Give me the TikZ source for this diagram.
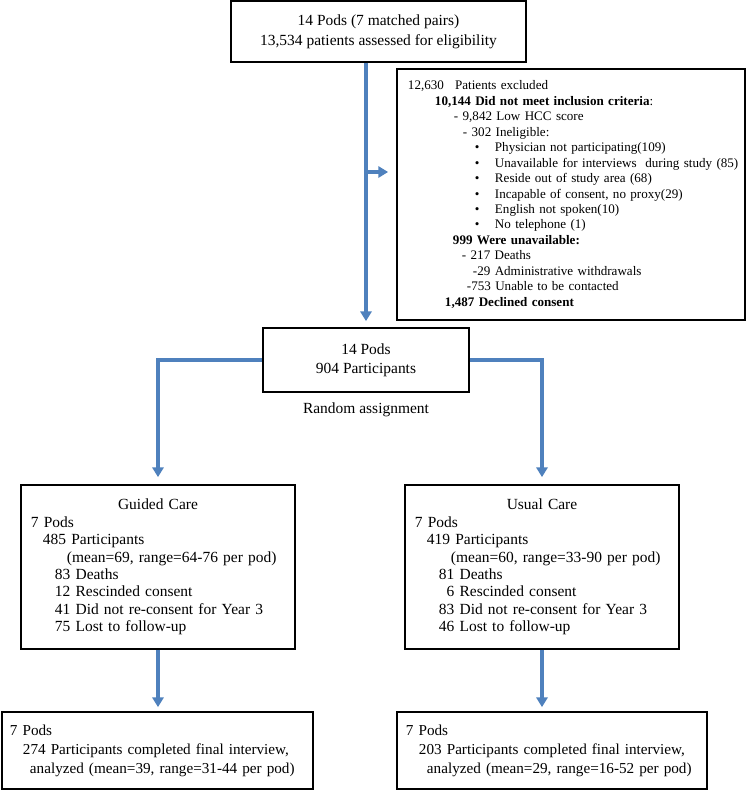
\documentclass[tikz,border=0pt]{standalone}
\usepackage{fontspec}
\setmainfont{Liberation Serif}
\usetikzlibrary{arrows.meta}
\definecolor{flowblue}{RGB}{79,129,189}
\newcommand{\exclitem}[1]{\hspace*{1.675cm}\makebox[0.5cm][l]{\textbullet}\mbox{#1}}

\begin{document}
\begin{tikzpicture}[x=0.025cm,y=-0.025cm,
  box/.style={draw,line width=1.2pt,inner xsep=0.25cm,inner ysep=0pt},
  flow/.style={draw=flowblue,line width=2.2pt,-{Triangle[width=8pt,length=7pt]}}]

\useasboundingbox (0,0) rectangle (748,791);

% boxes
\node[box,minimum width=7.375cm,minimum height=1.525cm,align=center,
  font=\fontsize{11}{14.2}\selectfont] (pods) at (378.5,31.5)
  {14 Pods (7 matched pairs)\\13,534 patients assessed for eligibility};

\node[box,inner xsep=0.275cm,text width=8.15cm,minimum height=6.275cm,align=left,
  font=\fontsize{9.3}{11}\selectfont] (excl) at (571,194.5)
  {12,630\hspace{0.28cm}Patients excluded\\
   \hspace*{0.675cm}\textbf{10,144 Did not meet inclusion criteria}:\\
   \hspace*{1.15cm}- 9,842 Low HCC score\\
   \hspace*{1.375cm}- 302 Ineligible:\\
   \exclitem{Physician not participating(109)}\\
   \exclitem{Unavailable for interviews\ \ during study (85)}\\
   \exclitem{Reside out of study area (68)}\\
   \exclitem{Incapable of consent, no proxy(29)}\\
   \exclitem{English not spoken(10)}\\
   \exclitem{No telephone (1)}\\
   \hspace*{1.125cm}\textbf{999 Were unavailable:}\\
   \hspace*{1.35cm}- 217 Deaths\\
   \hspace*{1.625cm}-29 Administrative withdrawals\\
   \hspace*{1.475cm}-753 Unable to be contacted\\
   \hspace*{0.925cm}\textbf{1,487 Declined consent}};

\node[box,minimum width=5.15cm,minimum height=1.6cm,align=center,
  font=\fontsize{11}{13.5}\selectfont] (mid) at (366,360)
  {14 Pods\\904 Participants};

\node[font=\fontsize{11}{13.5}\selectfont] (rand) at (366,410) {Random assignment};

\node[box,text width=6.35cm,minimum height=4.1cm,align=left,
  font=\fontsize{11}{12.4}\selectfont] (guided) at (158,567)
  {\makebox[6.35cm]{Guided Care}\\
   7 Pods\\
   \hspace*{0.3cm}485 Participants\\
   \hspace*{0.9cm}(mean=69, range=64-76 per pod)\\
   \hspace*{0.6cm}83 Deaths\\
   \hspace*{0.6cm}12 Rescinded consent\\
   \hspace*{0.6cm}41 Did not re-consent for Year 3\\
   \hspace*{0.6cm}75 Lost to follow-up};

\node[box,text width=6.35cm,minimum height=4.1cm,align=left,
  font=\fontsize{11}{12.4}\selectfont] (usual) at (542,567)
  {\makebox[6.35cm]{Usual Care}\\
   7 Pods\\
   \hspace*{0.3cm}419 Participants\\
   \hspace*{0.9cm}(mean=60, range=33-90 per pod)\\
   \hspace*{0.6cm}81 Deaths\\
   \hspace*{0.6cm}\hphantom{8}6 Rescinded consent\\
   \hspace*{0.6cm}83 Did not re-consent for Year 3\\
   \hspace*{0.6cm}46 Lost to follow-up};

\node[box,inner xsep=0.2cm,text width=7.375cm,minimum height=1.925cm,align=left,
  font=\fontsize{10.8}{13.5}\selectfont] (gfinal) at (157.5,750.5)
  {7 Pods\\
   \hspace*{0.325cm}274 Participants completed final interview,\\
   \hspace*{0.5cm}analyzed (mean=39, range=31-44 per pod)};

\node[box,inner xsep=0.225cm,text width=7.3cm,minimum height=1.925cm,align=left,
  font=\fontsize{10.8}{13.5}\selectfont] (ufinal) at (552,750.5)
  {7 Pods\\
   \hspace*{0.325cm}203 Participants completed final interview,\\
   \hspace*{0.525cm}analyzed (mean=29, range=16-52 per pod)};

% arrows
\coordinate (split) at (366,172);
\draw[flow,shorten >=0.15cm] (pods.south -| mid.north) -- (mid.north);
\draw[flow,shorten >=0.2cm] (split) -- (split -| excl.west);
\draw[flow,shorten >=0.175cm] (mid.west) -| (guided.north);
\draw[flow,shorten >=0.175cm] (mid.east) -| (usual.north);
\draw[flow,shorten >=0.1cm] (guided.south) -- (guided.south |- gfinal.north);
\draw[flow,shorten >=0.1cm] (usual.south) -- (usual.south |- ufinal.north);
\end{tikzpicture}
\end{document}
